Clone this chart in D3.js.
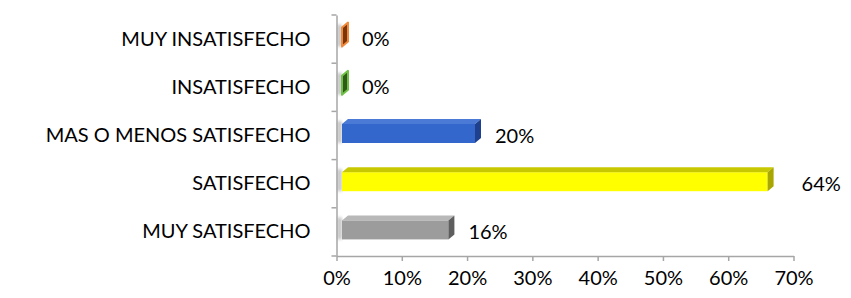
<!DOCTYPE html>
<html>
<head>
<meta charset="utf-8">
<script src="https://cdn.jsdelivr.net/npm/d3@7"></script>
<style>
  body { margin: 0; background: #fff; }
  text { font-family: Lato, "Open Sans", sans-serif; fill: #000; }
</style>
</head>
<body>
<svg id="chart" width="851" height="298"></svg>
<script>
// categorias de abajo hacia arriba
var categories = ["MUY SATISFECHO", "SATISFECHO", "MAS O MENOS SATISFECHO", "INSATISFECHO", "MUY INSATISFECHO"];
var values = [0.16, 0.64, 0.20, 0, 0];
var xTicks = [0, 0.1, 0.2, 0.3, 0.4, 0.5, 0.6, 0.7];

// colores de cada barra: frente, arriba, lado
var palette = [
  { front: "#9c9c9c", top: "#b8b8b8", side: "#5e5e5e" },
  { front: "#ffff00", top: "#c8c800", side: "#a8a600" },
  { front: "#3467cc", top: "#4a7ad6", side: "#1f408c" },
  { front: "#5aa832", top: "#6cbf42", side: "#2f5a1a", edge: "#70c046" },
  { front: "#e8731e", top: "#f08a3a", side: "#7a3508", edge: "#f08a3a" }
];

var svg = d3.select("#chart");
var margin = { top: 15, left: 336.5, right: 57.5, bottom: 42 };
var width = 851 - margin.left - margin.right,
  height = 298 - margin.top - margin.bottom;
var fontFam = "Lato, 'Open Sans', sans-serif";

var g = svg.append("g")
  .attr("transform", "translate(" + margin.left + "," + margin.top + ")");

var x = d3.scaleLinear().domain([0, 0.7]).range([0, width]);
var y = d3.scaleBand().domain(categories.slice().reverse()).range([0, height]);

// la cara frontal de las barras 3D se ve un poco mas larga (perspectiva)
var barX = d3.scaleLinear().domain([0, 0.7]).range([5.5, width + 14]);
var depthX = 6, depthY = 5, barH = 19;

// sombra suave a la izquierda
var defs = svg.append("defs");
defs.append("filter").attr("id", "shadow")
  .attr("x", "-20%").attr("y", "-30%").attr("width", "140%").attr("height", "160%")
  .append("feGaussianBlur").attr("stdDeviation", 1.5);

var bars = g.selectAll(".bar")
  .data(categories.map(function (c, i) { return { cat: c, v: values[i], col: palette[i] }; }))
  .enter().append("g")
  .attr("class", "bar")
  .attr("transform", function (d) {
    return "translate(0," + (y(d.cat) + y.bandwidth() / 2 - 2 - barH / 2) + ")";
  });

// sombra
bars.append("rect")
  .attr("x", 0.5).attr("y", -depthY + 2)
  .attr("width", 5).attr("height", barH + depthY - 2)
  .attr("fill", "#c8c8c8")
  .attr("filter", "url(#shadow)");

// cara frontal
bars.filter(function (d) { return d.v > 0; }).append("rect")
  .attr("x", barX(0))
  .attr("y", 0)
  .attr("width", function (d) { return barX(d.v) - barX(0); })
  .attr("height", barH)
  .attr("fill", function (d) { return d.col.front; });

// cara superior
bars.filter(function (d) { return d.v > 0; }).append("path")
  .attr("d", function (d) {
    var x0 = barX(0), x1 = barX(d.v);
    return "M" + x0 + ",0L" + (x0 + depthX) + "," + (-depthY) + "L" + (x1 + depthX) + "," + (-depthY) + "L" + x1 + ",0Z";
  })
  .attr("fill", function (d) { return d.col.top; });

// cara lateral
bars.append("path")
  .attr("d", function (d) {
    var x1 = barX(d.v);
    return "M" + x1 + ",0L" + (x1 + depthX) + "," + (-depthY) + "L" + (x1 + depthX) + "," + (barH - depthY) + "L" + x1 + "," + barH + "Z";
  })
  .attr("fill", function (d) { return d.col.side; })
  .attr("stroke", function (d) { return d.v > 0 ? "none" : d.col.edge; })
  .attr("stroke-width", 2)
  .attr("stroke-linejoin", "round");

// etiquetas de valor
bars.append("text")
  .attr("x", function (d) { return barX(d.v) + depthX + (d.v > 0.3 ? 28 : 14); })
  .attr("y", barH / 2 + 2)
  .attr("dy", "0.35em")
  .style("font-size", "20px")
  .text(function (d) { return d3.format(".0%")(d.v); });

// ejes
var axisColor = "#a6a6a6";
var xAxis = g.append("g")
  .attr("transform", "translate(0," + height + ")")
  .call(d3.axisBottom(x).tickValues(xTicks).tickFormat(d3.format(".0%")).tickSize(5).tickSizeOuter(0));
xAxis.select(".domain").attr("stroke", axisColor).attr("stroke-width", 1.5);
xAxis.selectAll(".tick line").attr("stroke", axisColor).attr("stroke-width", 1.5);
xAxis.selectAll("text")
  .attr("y", 15)
  .style("font-size", "20px")
  .style("font-family", fontFam)
  .attr("fill", "#000");

var yAxis = g.append("g")
  .call(d3.axisLeft(y).tickSize(0).tickPadding(26));
yAxis.select(".domain").attr("stroke", axisColor).attr("stroke-width", 1.5);
yAxis.selectAll("text")
  .style("font-size", "20px")
  .style("font-family", fontFam)
  .attr("fill", "#000");

// marcas entre categorias
var yTickPos = d3.range(categories.length + 1).map(function (i) { return i * y.step(); });
g.selectAll(".ytick")
  .data(yTickPos)
  .enter().append("line")
  .attr("x1", -5).attr("x2", 0)
  .attr("y1", function (d) { return d; })
  .attr("y2", function (d) { return d; })
  .attr("stroke", axisColor)
  .attr("stroke-width", 1.5);
</script>
</body>
</html>
